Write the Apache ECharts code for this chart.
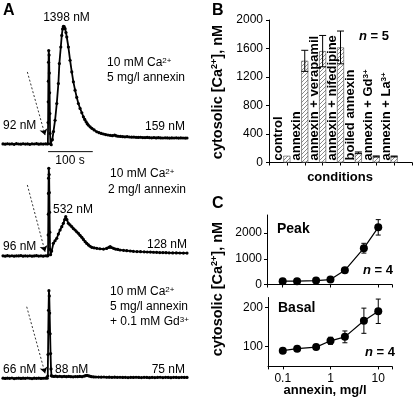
<!DOCTYPE html>
<html><head><meta charset="utf-8">
<script src="https://cdn.jsdelivr.net/npm/echarts@6/dist/echarts.min.js"></script>
<style>html,body{margin:0;padding:0;background:#fff}#c{width:415px;height:407px}</style>
</head><body><div id="c"></div>
<script>
const FONT = '"Liberation Sans", Arial, Helvetica, sans-serif';

// ---------- Panel A: time courses [time (s), cytosolic Ca2+ (nM)] ----------
const trace1 = [[0,93],[5,90],[10,95],[15,91],[20,94],[25,89],[30,96],[35,92],[40,90],[45,95],[50,91],[55,93],[60,88],[65,94],[70,92],[75,96],[80,90],[85,93],[90,91],[95,94],[99,92],
[100.5,95],[101,330],[101.3,560],[101.6,790],[102,1000],[102.4,1130],[103.2,1080],[103.8,880],[104.4,660],[104.9,430],[105.4,210],[106.2,95],[108,85],[110.5,140],[113,230],
[116.6,356],[120.4,542],[124,764],[126.2,985],[129.4,1169],[131.6,1298],[133.5,1370],[135.2,1398],[137,1395],[139,1373],[141,1330],[142.8,1280],[146.4,1169],[150.2,1022],[154,892],[157.6,782],[161.4,690],[165.2,609],[168.8,542],[172.6,487],[176.5,439],[180,394],[183,365],[186,339],[188.5,318],[191,302],[195,283],[199,266],[204,248],[210,228],[215,218],[220,210],[225,203],[230,197],[235,192],[240,188],[245,185],[250,190],[254,182],[258,178],[263,176],[268,174],[273,172],[278,173],[283,170],[288,168],[293,169],[298,166],[303,165],[308,167],[313,164],[318,163],[323,165],[328,162],[333,161],[338,163],[343,160],[348,162],[353,160],[358,159],[363,161],[368,160],[373,158],[378,160],[383,159],[388,161],[393,158],[398,160],[403,159],[408,158],[412,159]];
const trace2 = [[0,97],[5,94],[10,99],[15,95],[20,98],[25,93],[30,97],[35,96],[40,100],[45,94],[50,97],[55,95],[60,98],[65,93],[70,96],[75,99],[80,95],[85,97],[90,94],[95,98],[99,96],
[100.8,100],[101.2,330],[101.5,560],[101.8,790],[102.1,960],[102.5,1069],[103.3,1000],[103.8,800],[104.3,580],[104.8,360],[105.3,170],[106.5,110],
[109,150],[112.8,236],[116.5,265],[120.4,292],[124,340],[127.8,384],[131.6,421],[135.2,458],[138,500],[140.5,532],[143,500],[146.4,458],[150,440],[154,421],[157.5,400],[161.4,384],[165,365],[168.8,347],[172.5,325],[176.5,303],[180,280],[183.9,254],[187.5,235],[191.3,218],[195,204],[198.8,192],[204,186],[210,181],[217,176],[225,172],[232,180],[237,192],[240,199],[243,190],[247.3,181],[252,172],[257,168],[262,162],[270,158],[277,155],[285,151],[292,147],[300,145],[308,143],[316,142],[323,140],[330,139],[337,137],[344,136],[351,134],[358,133],[365,132],[372,131],[380,130],[388,130],[396,129],[404,128],[412,128]];
const trace3 = [[0,67],[5,64],[10,68],[15,65],[20,69],[25,63],[30,66],[35,68],[40,64],[45,67],[50,65],[55,69],[60,66],[65,63],[70,67],[75,65],[80,68],[85,64],[90,66],[95,67],[99,66],
[100.2,90],[100.8,330],[101.4,580],[102,820],[102.8,1038],[103.6,980],[104.5,790],[105.5,560],[106.5,340],[107.5,170],[108.5,95],
[110,88],[114,86],[118,90],[122,85],[127,88],[132,84],[137,87],[142,83],[147,86],[152,84],[157,82],[162,85],[167,83],[172,86],[177,84],[182,90],[185,95],[188,97],[191,94],[194,89],[198,84],[203,81],[208,80],[214,79],[220,78],[226,80],[232,77],[238,78],[244,76],[250,78],[256,76],[262,77],[268,75],[274,76],[280,74],[286,76],[292,75],[298,77],[304,75],[310,74],[316,76],[322,75],[328,73],[334,76],[340,74],[346,75],[352,77],[358,74],[364,76],[370,75],[376,73],[382,76],[388,75],[394,74],[400,76],[406,75],[412,75]];
const arrow1 = [[54.5,892],[94.2,191]];
const arrow2 = [[54.5,884],[94.2,143]];
const arrow3 = [[53.1,860],[94.2,121]];
const scaleBar = [[101,7],[201,7]];

// ---------- Panel B ----------
const conditions = ['control','annexin','annexin + verapamil','annexin + nifedipine','boiled annexin','annexin + Gd{sup|3+}','annexin + La{sup|3+}'];
const condValues = [94,1427,1563,1615,136,85,85];
const condErrors = [0,148,220,230,12,7,6];
const barTicks = [0,400,800,1200,1600,2000];

// ---------- Panel C ----------
const annexinDose = [0.1,0.2,0.5,1,2,5,10];
const peakValues = [128,128,154,192,550,1410,2220];
const peakErrors = [20,20,25,30,60,190,300];
const basalValues = [90,95,99,115,125,166,190];
const basalErrors = [3,5,6,9,15,32,31];
const peakTicks = [0,1000,2000];
const basalTicks = [100,200];
const doseTicks = [0.1,1,10];

// hatch pattern
const pc = document.createElement('canvas'); pc.width = 4; pc.height = 4;
const pctx = pc.getContext('2d');
pctx.fillStyle = '#fff'; pctx.fillRect(0,0,4,4);
pctx.strokeStyle = '#8a8a8a'; pctx.lineWidth = 1;
pctx.beginPath(); pctx.moveTo(0,4); pctx.lineTo(4,0); pctx.moveTo(-1,1); pctx.lineTo(1,-1); pctx.moveTo(3,5); pctx.lineTo(5,3); pctx.stroke();

function txt(x, y, text, o) {
  o = o || {};
  return { type: 'text', x: x, y: y, rotation: o.rotation || 0, silent: true,
    style: { text: text, fontSize: o.size || 12, fontWeight: o.weight || 'normal', fontFamily: FONT,
      fill: '#000', align: o.align || 'left', verticalAlign: 'middle',
      rich: { sup: { fontSize: (o.supSize || 8), fontWeight: o.weight || 'normal', fontFamily: FONT, verticalAlign: 'top' },
              i: { fontStyle: 'italic', fontWeight: 'bold', fontSize: o.size || 12, fontFamily: FONT } } } };
}

function errRender(capW) {
  return function (params, api) {
    const x = api.value(0), v = api.value(1), e = api.value(2);
    const t = api.coord([x, v + e]), b = api.coord([x, v - e]);
    const st = { stroke: '#000', lineWidth: 1 };
    return { type: 'group', children: [
      { type: 'line', shape: { x1: t[0], y1: t[1], x2: b[0], y2: b[1] }, style: st },
      { type: 'line', shape: { x1: t[0] - capW / 2, y1: t[1], x2: t[0] + capW / 2, y2: t[1] }, style: st },
      { type: 'line', shape: { x1: b[0] - capW / 2, y1: b[1], x2: b[0] + capW / 2, y2: b[1] }, style: st }
    ] };
  };
}

const traceGrid = (top) => ({ left: 3, top: top, width: 184, height: 135.1 });
const hiddenX = (gi) => ({ type: 'value', gridIndex: gi, min: 0, max: 412, show: false, splitLine: { show: false } });
const hiddenY = (gi) => ({ type: 'value', gridIndex: gi, min: 0, max: 1500, show: false, splitLine: { show: false } });

const axLine = { show: true, lineStyle: { color: '#000', width: 1 } };
const axTick = { show: true, length: 3, lineStyle: { color: '#000', width: 1 } };
const plain = v => String(v);
const doseLabel = v => {
  const hit = doseTicks.find(d => Math.abs(d - v) / d < 1e-6);
  return hit === undefined ? '' : String(hit);
};

function traceSeries(idx, data, arrow) {
  return { type: 'line', xAxisIndex: idx, yAxisIndex: idx, data: data,
    symbol: 'circle', symbolSize: 3.2, showSymbol: true, showAllSymbol: true,
    itemStyle: { color: '#000' }, lineStyle: { color: '#000', width: 1.8 },
    markLine: { silent: true, symbol: ['none', 'arrow'], symbolSize: 6,
      lineStyle: { type: [2, 2], color: '#000', width: 0.8 }, label: { show: false },
      data: [[{ coord: arrow[0] }, { coord: arrow[1] }]] } };
}

const barCats = [''].concat(conditions).concat(['']);
const barData = ['-'].concat(condValues).concat(['-']);
const barErr = [];
condValues.forEach((v, i) => { if (condErrors[i] > 0) barErr.push([i + 1, v, condErrors[i]]); });

const logAxis = (gi, min, showLabels) => ({ type: 'log', gridIndex: gi, min: min, max: 19.4, logBase: 10,
  axisLine: axLine, axisTick: axTick, splitLine: { show: false }, minorTick: { show: false },
  axisLabel: { show: showLabels, fontSize: 12, color: '#000', margin: 6, fontFamily: FONT, formatter: doseLabel,
    showMinLabel: true, showMaxLabel: true, hideOverlap: false } });

const option = {
  animation: false,
  backgroundColor: '#fff',
  textStyle: { fontFamily: FONT },
  grid: [traceGrid(17.2), traceGrid(129.5), traceGrid(249.1),
    { left: 269, top: 20, width: 143, height: 142.5 },
    { left: 267, top: 215, width: 125, height: 69.5 },
    { left: 268, top: 297.5, width: 124, height: 68.9 }],
  xAxis: [hiddenX(0), hiddenX(1), hiddenX(2),
    { type: 'category', gridIndex: 3, data: barCats, boundaryGap: false,
      axisLine: axLine, axisTick: Object.assign({ interval: 0 }, axTick), axisLabel: { show: false } },
    logAxis(4, 0.047, false),
    logAxis(5, 0.049, true)],
  yAxis: [hiddenY(0), hiddenY(1), hiddenY(2),
    { type: 'value', gridIndex: 3, min: barTicks[0], max: barTicks[barTicks.length - 1], interval: 400,
      axisLine: axLine, axisTick: axTick, splitLine: { show: false },
      axisLabel: { fontSize: 12, color: '#000', margin: 6, fontFamily: FONT, formatter: plain } },
    { type: 'value', gridIndex: 4, min: 0, max: 2700, interval: 1000,
      axisLine: axLine, axisTick: Object.assign({ customValues: peakTicks }, axTick), splitLine: { show: false },
      axisLabel: { customValues: peakTicks, fontSize: 12, color: '#000', margin: 5, fontFamily: FONT, formatter: plain } },
    { type: 'value', gridIndex: 5, min: 50, max: 225, interval: 50,
      axisLine: axLine, axisTick: Object.assign({ customValues: basalTicks }, axTick), splitLine: { show: false },
      axisLabel: { customValues: basalTicks, fontSize: 12, color: '#000', margin: 5, fontFamily: FONT, formatter: plain } }],
  series: [
    traceSeries(0, trace1, arrow1),
    traceSeries(1, trace2, arrow2),
    traceSeries(2, trace3, arrow3),
    { type: 'line', xAxisIndex: 0, yAxisIndex: 0, data: scaleBar, symbol: 'none',
      lineStyle: { color: '#000', width: 1 } },
    { type: 'bar', xAxisIndex: 3, yAxisIndex: 3, data: barData, barWidth: 7,
      itemStyle: { color: { image: pc, repeat: 'repeat' }, borderColor: '#444', borderWidth: 0.6 },
      label: { show: true, position: 'insideBottom', distance: 2, rotate: 90, align: 'left', verticalAlign: 'middle',
        offset: [0, -8], fontSize: 13, fontWeight: 'bold', color: '#000', fontFamily: FONT,
        formatter: p => conditions[p.dataIndex - 1] || '',
        rich: { sup: { fontSize: 8, fontWeight: 'bold', verticalAlign: 'top', fontFamily: FONT } } } },
    { type: 'custom', xAxisIndex: 3, yAxisIndex: 3, data: barErr, renderItem: errRender(7), z: 5 },
    { type: 'custom', xAxisIndex: 4, yAxisIndex: 4, data: annexinDose.map((d, i) => [d, peakValues[i], peakErrors[i]]), renderItem: errRender(5), z: 3 },
    { type: 'custom', xAxisIndex: 5, yAxisIndex: 5, data: annexinDose.map((d, i) => [d, basalValues[i], basalErrors[i]]), renderItem: errRender(5), z: 3 },
    { type: 'line', xAxisIndex: 4, yAxisIndex: 4, data: annexinDose.map((d, i) => [d, peakValues[i]]),
      symbol: 'circle', symbolSize: 8, itemStyle: { color: '#000' }, lineStyle: { color: '#000', width: 1.2 }, z: 4 },
    { type: 'line', xAxisIndex: 5, yAxisIndex: 5, data: annexinDose.map((d, i) => [d, basalValues[i]]),
      symbol: 'circle', symbolSize: 8, itemStyle: { color: '#000' }, lineStyle: { color: '#000', width: 1.2 }, z: 4 }
  ],
  graphic: [
    txt(3, 11, 'A', { size: 16, weight: 'bold' }),
    txt(212, 11, 'B', { size: 16, weight: 'bold' }),
    txt(212, 204, 'C', { size: 16, weight: 'bold' }),
    // panel A annotations
    txt(66.5, 18, '1398 nM', { align: 'center' }),
    txt(107, 63, '10 mM Ca{sup|2+}'),
    txt(107, 78, '5 mg/l annexin'),
    txt(3, 126, '92 nM'),
    txt(185, 127, '159 nM', { align: 'right' }),
    txt(70, 161, '100 s', { align: 'center' }),
    txt(110, 174, '10 mM Ca{sup|2+}'),
    txt(108, 190, '2 mg/l annexin'),
    txt(53, 210, '532 nM'),
    txt(3, 247, '96 nM'),
    txt(187, 245, '128 nM', { align: 'right' }),
    txt(110, 292, '10 mM Ca{sup|2+}'),
    txt(110, 307, '5 mg/l annexin'),
    txt(110, 322, '+ 0.1 mM Gd{sup|3+}'),
    txt(3, 370, '66 nM'),
    txt(55, 370, '88 nM'),
    txt(185, 370, '75 nM', { align: 'right' }),
    // panel B
    txt(218, 92, 'cytosolic [Ca{sup|2+}], nM', { size: 14.5, supSize: 9, weight: 'bold', align: 'center', rotation: Math.PI / 2 }),
    txt(340, 177, 'conditions', { size: 13, weight: 'bold', align: 'center' }),
    txt(374, 36, '{i|n} = 5', { size: 13, weight: 'bold', align: 'center' }),
    // panel C
    txt(218, 289, 'cytosolic [Ca{sup|2+}], nM', { size: 14.5, supSize: 9, weight: 'bold', align: 'center', rotation: Math.PI / 2 }),
    txt(277, 229, 'Peak', { size: 14, weight: 'bold' }),
    txt(278, 308, 'Basal', { size: 14, weight: 'bold' }),
    txt(378, 270.5, '{i|n} = 4', { size: 13, weight: 'bold', align: 'center' }),
    txt(380, 352, '{i|n} = 4', { size: 13, weight: 'bold', align: 'center' }),
    txt(325, 390, 'annexin, mg/l', { size: 13, weight: 'bold', align: 'center' })
  ]
};

const chart = echarts.init(document.getElementById('c'), null, { renderer: 'canvas', width: 415, height: 407 });
chart.setOption(option);
</script>
</body></html>
